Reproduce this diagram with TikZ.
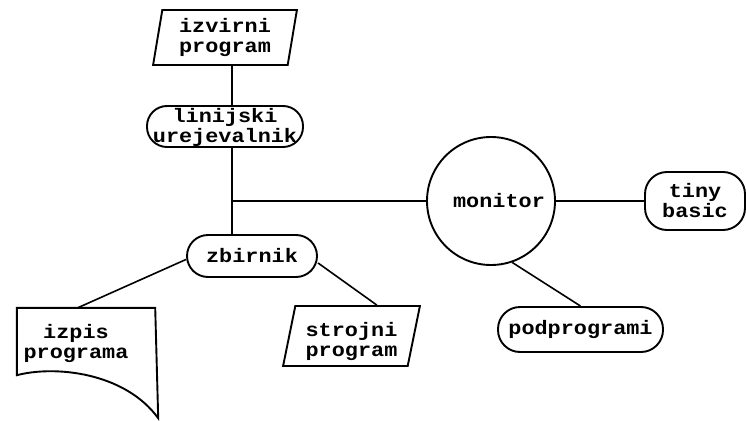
\documentclass[tikz,border=0pt]{standalone}
\usepackage{fontspec}
\setmonofont{Liberation Mono}[FakeStretch=1.12]
\usetikzlibrary{shapes.geometric,calc}
\begin{document}
\begin{tikzpicture}[x=1pt,y=-1pt,
  every node/.style={font=\ttfamily\bfseries\fontsize{19.5}{20}\selectfont, align=center, inner sep=0pt},
  line/.style={line width=1.6pt},
  outline/.style={draw, line width=1.9pt},
  pill/.style={outline, rectangle, rounded corners=#1},
  pill/.default=21pt,
  para/.style={outline, trapezium, trapezium stretches=true},
]
\useasboundingbox (0,0) rectangle (746,420);

% nodes
\node[para, trapezium left angle=80, trapezium right angle=100,
      minimum width=144pt, minimum height=55pt] (src) at (225,37.5) {izvirni\\program};
\node[pill=20pt, minimum width=156pt, minimum height=41pt,
      font=\ttfamily\bfseries\fontsize{19.5}{18}\selectfont,
      text height=34pt, text depth=3pt] (lin) at (225,126.5) {linijski\\urejevalnik};
\coordinate (j) at (232,201);
\node[pill, minimum width=130pt, minimum height=42pt] (zb) at (252,256) {zbirnik};
\node[outline, circle, minimum size=128pt] (mon) at (491,201) {\hspace*{16pt}monitor};
\node[pill=22pt, minimum width=100pt, minimum height=58pt] (tb) at (695,201) {tiny\\basic};
\node[pill=22pt, minimum width=165pt, minimum height=45pt] (pod) at (580.5,329.5) {podprogrami};
\node[para, trapezium left angle=76, trapezium right angle=104,
      minimum width=137pt, minimum height=60pt,
      text height=40pt, text depth=0pt] (obj) at (351.5,336) {strojni\\program};
\node[minimum width=138pt, minimum height=67pt] (doc) at (86,341.5) {};
\node (doctext) at (76,343) {izpis\\programa};

% document shape
\draw[outline] (doc.south west) -- (doc.north west) -- (doc.north east)
  -- ($(doc.south east)+(3,43)$)
  .. controls ($(doc.south west)+(108,-3)$) and ($(doc.south west)+(38,-10)$) .. (doc.south west) -- cycle;

% connectors
\draw[line] (src.south -| j) -- (lin.north -| j);
\draw[line] (lin.south -| j) -- (zb.north -| j);
\draw[line] (j) -- (mon.west);
\draw[line] (mon.east) -- (tb.west);
\draw[line] (mon.-71) -- (pod.north);
\draw[line] (zb.183) -- ($(doc.north west)!0.44!(doc.north east)$);
\draw[line] (zb.-6) -- ($(obj.top left corner)!0.65!(obj.top right corner)$);
\end{tikzpicture}
\end{document}
